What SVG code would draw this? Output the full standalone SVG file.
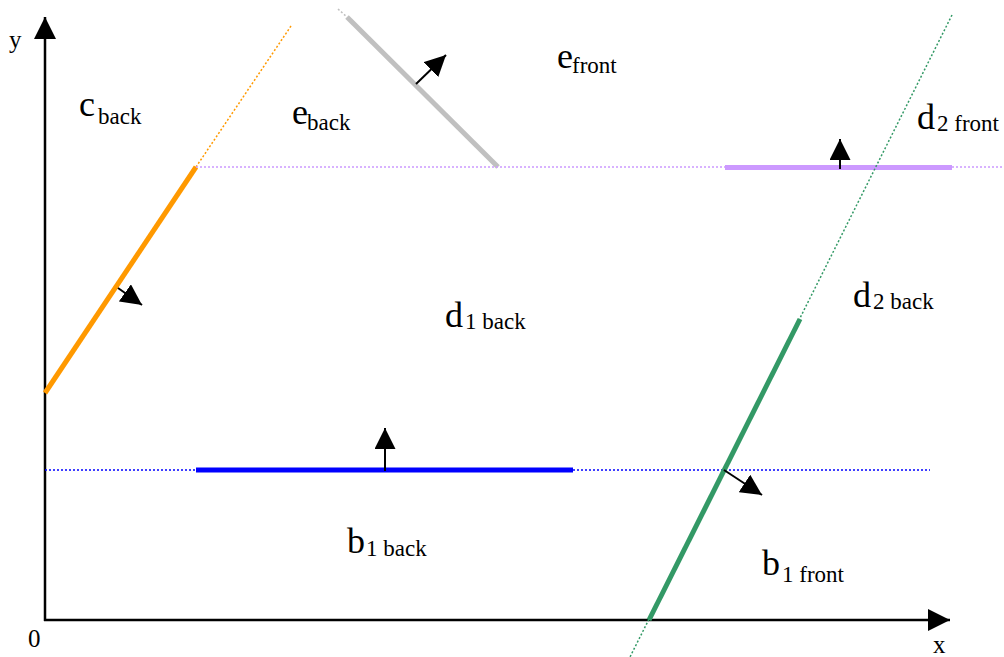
<svg xmlns="http://www.w3.org/2000/svg" width="1004" height="657" viewBox="0 0 1004 657">
<style>
  .axis{stroke:#000;stroke-width:2.5;fill:none}
  .normal{stroke:#000;stroke-width:2;fill:none}
  .dot{stroke-width:1.5;stroke-dasharray:2 2;fill:none}
  .seg{stroke-width:5;fill:none;stroke-linecap:butt}
  .lbl{font-family:"Liberation Serif","Times New Roman",serif;font-size:36px;fill:#000}
  .sub{font-size:23px}
  .ax{font-family:"Liberation Serif","Times New Roman",serif;font-size:25px;fill:#000}
</style>
<defs>
  <marker id="axhead" markerUnits="userSpaceOnUse" markerWidth="22" markerHeight="22" refX="20" refY="10" orient="auto" viewBox="0 0 20 20">
    <path d="M0,0 L20,10 L0,20 z" fill="#000"/>
  </marker>
  <marker id="nhead" markerUnits="userSpaceOnUse" markerWidth="21" markerHeight="21" refX="20" refY="10" orient="auto" viewBox="0 0 20 20">
    <path d="M0,0 L20,10 L0,20 z" fill="#000"/>
  </marker>
</defs>
<rect width="1004" height="657" fill="#fff"/>

<g id="axes">
  <line class="axis" x1="45" y1="621" x2="45" y2="17" marker-end="url(#axhead)"/>
  <line class="axis" x1="44" y1="620" x2="950" y2="620" marker-end="url(#axhead)"/>
  <text class="ax" x="9" y="48">y</text>
  <text class="ax" x="28" y="647">0</text>
  <text class="ax" x="933" y="653">x</text>
</g>

<g id="plane-c">
  <line class="dot" stroke="#FF9900" x1="196" y1="167" x2="291" y2="26"/>
  <line class="seg" stroke="#FF9900" x1="45" y1="393" x2="196" y2="167"/>
</g>
<g id="plane-e">
  <line class="dot" stroke="#C0C0C0" x1="338" y1="9" x2="347" y2="17"/>
  <line class="seg" stroke="#C0C0C0" x1="347" y1="17" x2="498" y2="167"/>
</g>
<g id="plane-d1">
  <line class="dot" stroke="#CC99FF" x1="196" y1="167" x2="1004" y2="167"/>
  <line class="seg" stroke="#CC99FF" x1="725" y1="167.5" x2="952" y2="167.5"/>
</g>
<g id="plane-b1">
  <line class="dot" stroke="#0000FF" x1="45" y1="470" x2="930" y2="470"/>
  <line class="seg" stroke="#0000FF" x1="196" y1="470" x2="573" y2="470"/>
</g>
<g id="plane-d2">
  <line class="dot" stroke="#339966" x1="952" y1="15" x2="630" y2="657"/>
  <line class="seg" stroke="#339966" x1="800" y1="319" x2="649" y2="620"/>
</g>

<g id="normals">
  <line class="normal" x1="118" y1="288" x2="142" y2="305" marker-end="url(#nhead)"/>
  <line class="normal" x1="416" y1="84" x2="446" y2="55" marker-end="url(#nhead)"/>
  <line class="normal" x1="840" y1="169" x2="840" y2="139" marker-end="url(#nhead)"/>
  <line class="normal" x1="385" y1="471" x2="385" y2="428" marker-end="url(#nhead)"/>
  <line class="normal" x1="724" y1="470" x2="762" y2="495" marker-end="url(#nhead)"/>
</g>

<g id="labels">
  <text class="lbl" x="79" y="116">c<tspan class="sub" x="98" y="124">back</tspan></text>
  <text class="lbl" x="292" y="124">e<tspan class="sub" x="307" y="130">back</tspan></text>
  <text class="lbl" x="557" y="68">e<tspan class="sub" x="572" y="73">front</tspan></text>
  <text class="lbl" x="917" y="129">d<tspan class="sub" x="937" y="131">2 front</tspan></text>
  <text class="lbl" x="445" y="327">d<tspan class="sub" x="465" y="329">1 back</tspan></text>
  <text class="lbl" x="853" y="307">d<tspan class="sub" x="873" y="309">2 back</tspan></text>
  <text class="lbl" x="347" y="553">b<tspan class="sub" x="366" y="556">1 back</tspan></text>
  <text class="lbl" x="762" y="575">b<tspan class="sub" x="782" y="582">1 front</tspan></text>
</g>
</svg>
